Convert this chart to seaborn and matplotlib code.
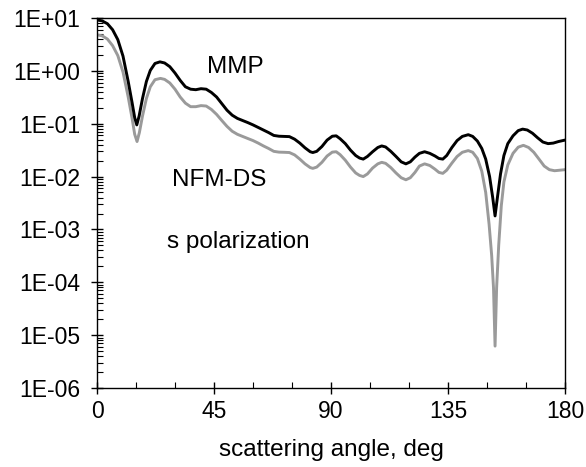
import numpy as np
import pandas as pd
import seaborn as sns
import matplotlib.pyplot as plt
from matplotlib.ticker import FixedLocator, LogLocator, FuncFormatter, NullFormatter

# MMP curve (black)
angle_mmp = [0, 2, 4, 6, 8, 10, 12, 13.5, 14.5, 15.3, 16.2, 17.5, 19, 20.5, 22.3, 24.2,
             26, 28, 30, 32, 34, 36, 38, 40, 42, 44, 46, 48, 50, 52, 54, 56, 58, 60,
             62, 64, 66, 68, 70, 72, 74, 76, 78, 80, 82, 83, 84.5, 86.5, 88.5, 90.5,
             92, 93.5, 95.5, 97.5, 99.5, 101, 102.4, 104, 106, 108, 109.5, 111, 113,
             115, 117, 118.8, 120.5, 122.3, 124, 126, 128, 130, 131.5, 133, 134.5,
             136.5, 138.5, 140.5, 142.8, 144.5, 146.3, 148, 149.5, 151, 152.2, 153.1,
             154, 155.2, 156.5, 158, 160, 162, 163.7, 165.5, 167.5, 169.5, 171.5,
             173.5, 175.5, 177.5, 180]
mmp = [9.2, 8.8, 7.8, 6.0, 3.9, 1.9, 0.63, 0.25, 0.13, 0.095, 0.14, 0.30, 0.63, 1.02,
       1.38, 1.48, 1.41, 1.2, 0.91, 0.66, 0.50, 0.45, 0.44, 0.46, 0.45, 0.39, 0.32, 0.24,
       0.18, 0.145, 0.126, 0.115, 0.105, 0.095, 0.085, 0.076, 0.068, 0.060, 0.058,
       0.0575, 0.057, 0.051, 0.043, 0.035, 0.0295, 0.0285, 0.030, 0.037, 0.049, 0.058,
       0.059, 0.052, 0.042, 0.0316, 0.025, 0.0224, 0.0214, 0.024, 0.0295, 0.0355, 0.038,
       0.0363, 0.030, 0.024, 0.019, 0.0174, 0.019, 0.0234, 0.0275, 0.0295, 0.0275,
       0.0245, 0.022, 0.0214, 0.025, 0.0355, 0.048, 0.0575, 0.062, 0.0575, 0.047, 0.034,
       0.0214, 0.010, 0.0040, 0.0018, 0.0040, 0.0112, 0.025, 0.042, 0.059, 0.074, 0.079,
       0.076, 0.066, 0.054, 0.045, 0.042, 0.043, 0.046, 0.049]

# NFM-DS curve (grey)
angle_nfm = [0, 2, 4, 6, 8, 10, 12, 13.5, 14.5, 15.4, 16.3, 17.5, 19, 20.5, 22.3, 24.4,
             26, 28, 30, 32, 34, 36, 38, 40, 42, 44, 46, 48, 50, 52, 54, 56, 58, 60,
             62, 64, 66, 68, 70, 72, 74, 76, 78, 80, 82, 83, 84.5, 86.5, 88.5, 90.5,
             92, 93.5, 95.5, 97.5, 99.5, 101, 102.4, 104, 106, 108, 109.5, 111, 113,
             115, 117, 118.8, 120.5, 122.3, 124, 126, 128, 130, 131.5, 133, 134.5,
             136.5, 138.5, 140.5, 142.8, 144.5, 146.3, 148, 149.5, 150.8, 151.8, 152.5,
             153.1, 153.7, 154.5, 155.5, 156.5, 158, 160, 162, 164, 166, 168, 170, 172,
             174, 176, 178, 180]
nfm = [4.8, 4.6, 4.0, 3.0, 1.95, 0.95, 0.32, 0.126, 0.063, 0.046, 0.068, 0.14, 0.30,
       0.50, 0.68, 0.72, 0.69, 0.59, 0.45, 0.32, 0.245, 0.21, 0.21, 0.22, 0.216, 0.186,
       0.15, 0.115, 0.089, 0.072, 0.063, 0.0575, 0.0525, 0.048, 0.043, 0.038, 0.034,
       0.030, 0.029, 0.0288, 0.0285, 0.0257, 0.0214, 0.0174, 0.0148, 0.0143, 0.0151,
       0.0186, 0.0245, 0.029, 0.0295, 0.026, 0.0204, 0.0151, 0.0117, 0.0105, 0.0100,
       0.0112, 0.0145, 0.0174, 0.0186, 0.0178, 0.0148, 0.0117, 0.0095, 0.0087, 0.0095,
       0.012, 0.0158, 0.0174, 0.0162, 0.0138, 0.012, 0.0115, 0.0132, 0.018, 0.024,
       0.0288, 0.031, 0.0288, 0.022, 0.0126, 0.0050, 0.00126, 0.00032, 7.9e-5, 6.2e-6,
       7.9e-5, 0.0005, 0.0028, 0.0079, 0.0166, 0.0275, 0.036, 0.039, 0.0355, 0.0288,
       0.0214, 0.0158, 0.0135, 0.0129, 0.0132, 0.0135]

x_ticks = [0, 45, 90, 135, 180]

df = pd.concat([
    pd.DataFrame({'angle': angle_mmp, 'value': mmp, 'method': 'MMP'}),
    pd.DataFrame({'angle': angle_nfm, 'value': nfm, 'method': 'NFM-DS'}),
])

sns.set_style('white')
plt.rcParams['font.family'] = ['Liberation Sans', 'DejaVu Sans']
plt.rcParams['text.color'] = 'black'
plt.rcParams['axes.labelcolor'] = 'black'
plt.rcParams['xtick.color'] = 'black'
plt.rcParams['ytick.color'] = 'black'

fig = plt.figure(figsize=(5.86, 4.67), dpi=100)
ax = fig.add_axes([97 / 586, 79 / 467, 468 / 586, 370 / 467])

# grey first so the black curve sits on top
sns.lineplot(data=df, x='angle', y='value', hue='method', hue_order=['NFM-DS', 'MMP'],
             palette={'MMP': 'black', 'NFM-DS': '#9a9a9a'}, linewidth=2.1,
             sort=False, estimator=None, legend=False, ax=ax)

ax.set_yscale('log')
ax.set_xlim(0, 180)
ax.set_ylim(1e-6, 1e1)

ax.xaxis.set_major_locator(FixedLocator(x_ticks))
ax.xaxis.set_minor_locator(FixedLocator(np.arange(15, 180, 15)))
ax.yaxis.set_major_locator(LogLocator(base=10, numticks=20))
ax.yaxis.set_minor_locator(LogLocator(base=10, subs=np.arange(2, 10), numticks=20))
ax.yaxis.set_minor_formatter(NullFormatter())
ax.yaxis.set_major_formatter(FuncFormatter(lambda v, p: f"1E{int(round(np.log10(v))):+03d}"))

ax.tick_params(which='major', direction='inout', length=8, width=1,
               labelsize=16.5, labelcolor='black', left=True, bottom=True)
ax.tick_params(axis='x', which='major', pad=5)
ax.tick_params(axis='y', which='major', pad=8)
ax.tick_params(which='minor', direction='in', length=4, width=0.8,
               left=True, bottom=True)

for s in ax.spines.values():
    s.set_color('black')
    s.set_linewidth(1)

ax.set_xlabel('scattering angle, deg', fontsize=17.5, labelpad=11, color='black')
ax.set_ylabel('')

ax.text(0.234, 0.868, 'MMP', transform=ax.transAxes, fontsize=17.5, va='center', ha='left')
ax.text(0.160, 0.562, 'NFM-DS', transform=ax.transAxes, fontsize=17.5, va='center', ha='left')
ax.text(0.149, 0.395, 's polarization', transform=ax.transAxes, fontsize=17.5,
        va='center', ha='left')

plt.savefig('out.png', dpi=100)
